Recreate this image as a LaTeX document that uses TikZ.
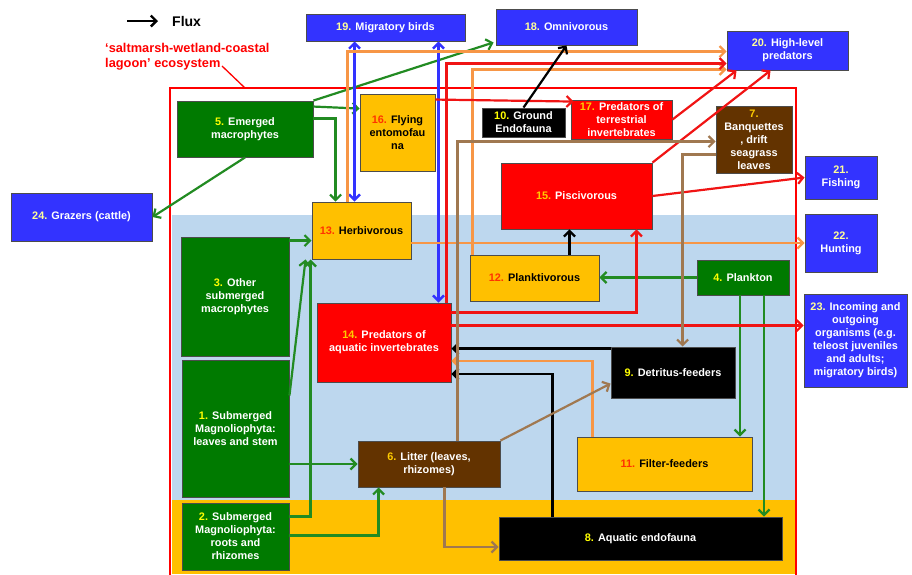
\documentclass[tikz,border=0pt]{standalone}
\usepackage{fontspec}
\setmainfont{Liberation Sans}
\usetikzlibrary{arrows.meta}
\definecolor{boxblue}{RGB}{51,51,255}
\definecolor{boxgreen}{RGB}{0,122,0}
\definecolor{boxyellow}{RGB}{255,192,0}
\definecolor{boxred}{RGB}{255,0,0}
\definecolor{boxbrown}{RGB}{99,51,0}
\definecolor{waterblue}{RGB}{189,215,238}
\definecolor{sedyellow}{RGB}{255,192,0}
\definecolor{flowgreen}{RGB}{34,139,34}
\definecolor{floworange}{RGB}{247,150,70}
\definecolor{flowred}{RGB}{240,20,20}
\definecolor{flowbrown}{RGB}{160,120,80}
\definecolor{numdark}{RGB}{255,255,0}
\definecolor{numyel}{RGB}{255,51,0}
\definecolor{numred}{RGB}{255,204,0}
\definecolor{numblue}{RGB}{255,255,153}
\newcommand{\nr}[2]{\textcolor{#1}{#2.}}
\tikzset{
    comp/.style={draw=black!70, line width=0.9pt, inner sep=1pt, align=center},
    bluebox/.style={comp, fill=boxblue, text=white},
    greenbox/.style={comp, fill=boxgreen, text=white},
    yelbox/.style={comp, fill=boxyellow, text=black},
    redbox/.style={comp, fill=boxred, text=white},
    brownbox/.style={comp, fill=boxbrown, text=white},
    blackbox/.style={comp, fill=black, text=white},
    flow/.style={line width=2.2pt, -{Straight Barb[length=5.5pt,width=11pt]}},
    gflow/.style={flow, flowgreen},
    oflow/.style={flow, floworange},
    rflow/.style={flow, flowred},
    kflow/.style={flow, black},
    nflow/.style={flow, flowbrown},
    bflow/.style={line width=2.4pt, boxblue, {Straight Barb[length=5.5pt,width=11pt]}-{Straight Barb[length=5.5pt,width=11pt]}}
}
\begin{document}
\begin{tikzpicture}[x=1pt, y=-1pt, font=\fontsize{10.9}{13}\selectfont\bfseries]
    \useasboundingbox (0,0) rectangle (912,574);
    \fill[waterblue] (172,215) rectangle (795,500);
    \fill[sedyellow] (172,500) rectangle (795,574);
    \draw[boxred, line width=1.8pt] (170,580) -- (170,88) -- (796,88) -- (796,580);

    \coordinate (fluxa) at (127,21);
    \coordinate (fluxb) at (158,21);
    \draw[kflow, line width=2.4pt] (fluxa) -- (fluxb);
    \node[anchor=west, inner sep=0pt, font=\fontsize{14}{16}\selectfont\bfseries] (flux) at (172,21) {Flux};
    \node[anchor=north west, inner sep=0pt, align=left, text=boxred, font=\fontsize{12.8}{15}\selectfont\bfseries] (eco) at (105,43) {`saltmarsh-wetland-coastal\\lagoon' ecosystem};
    \coordinate (ecoa) at (222,66);
    \coordinate (ecob) at (245,88);
    \draw[boxred, line width=1.3pt] (ecoa) -- (ecob);

    \node[bluebox, minimum width=159pt, minimum height=27pt] (mig) at (385.5,27.5) {\nr{numblue}{19} Migratory birds};
    \node[bluebox, minimum width=141pt, minimum height=36pt] (omn) at (566.5,27) {\nr{numblue}{18} Omnivorous};
    \node[bluebox, minimum width=121pt, minimum height=39pt] (hlp) at (787.5,50.5) {\nr{numblue}{20} High-level\\predators};
    \node[bluebox, minimum width=141pt, minimum height=48pt] (grz) at (81.5,217) {\nr{numblue}{24} Grazers (cattle)};
    \node[bluebox, minimum width=72pt, minimum height=43pt] (fsh) at (841,177.5) {\nr{numblue}{21}\\Fishing};
    \node[bluebox, minimum width=72pt, minimum height=58pt] (hun) at (841,243) {\nr{numblue}{22}\\Hunting};
    \node[bluebox, minimum width=103pt, minimum height=93pt] (inc) at (855.5,340.5) {\nr{numblue}{23} Incoming and\\outgoing\\organisms (e.g.\\teleost juveniles\\and adults;\\migratory birds)};

    \node[greenbox, minimum width=136pt, minimum height=56pt] (emg) at (245,129) {\nr{numdark}{5} Emerged\\macrophytes};
    \node[greenbox, minimum width=108pt, minimum height=119pt] (osm) at (235,296.5) {\nr{numdark}{3} Other\\submerged\\macrophytes};
    \node[greenbox, minimum width=107pt, minimum height=137pt] (sml) at (235.5,428.5) {\nr{numdark}{1} Submerged\\Magnoliophyta:\\leaves and stem};
    \node[greenbox, minimum width=107pt, minimum height=67pt] (smr) at (235.5,536.5) {\nr{numdark}{2} Submerged\\Magnoliophyta:\\roots and\\rhizomes};
    \node[greenbox, minimum width=92pt, minimum height=35pt] (plk) at (743,277.5) {\nr{numdark}{4} Plankton};

    \node[yelbox, minimum width=75pt, minimum height=77pt] (fly) at (397.5,132.5) {\nr{numyel}{16} Flying\\entomofau\\na};
    \node[yelbox, minimum width=99pt, minimum height=57pt] (herb) at (361.5,230.5) {\nr{numyel}{13} Herbivorous};
    \node[yelbox, minimum width=129pt, minimum height=46pt] (pkv) at (534.5,278) {\nr{numyel}{12} Planktivorous};
    \node[yelbox, minimum width=175pt, minimum height=54pt] (fil) at (664.5,464) {\nr{numyel}{11} Filter-feeders};

    \node[redbox, minimum width=134pt, minimum height=79pt] (pai) at (384,342.5) {\nr{numred}{14} Predators of\\aquatic invertebrates};
    \node[redbox, minimum width=151pt, minimum height=66pt] (pis) at (576.5,196) {\nr{numred}{15} Piscivorous};
    \node[redbox, minimum width=101pt, minimum height=39pt] (pti) at (621.5,119.5) {\nr{numred}{17} Predators of\\terrestrial\\invertebrates};

    \node[brownbox, minimum width=142pt, minimum height=46pt] (lit) at (429,464) {\nr{numred}{6} Litter (leaves,\\rhizomes)};
    \node[brownbox, minimum width=76pt, minimum height=67pt] (ban) at (754,139.5) {\nr{numred}{7}\\Banquettes\\, drift\\seagrass\\leaves};

    \node[blackbox, minimum width=283pt, minimum height=43pt] (aqe) at (640.5,538.5) {\nr{numdark}{8} Aquatic endofauna};
    \node[blackbox, minimum width=124pt, minimum height=51pt] (det) at (673,372.5) {\nr{numdark}{9} Detritus-feeders};
    \node[blackbox, minimum width=83pt, minimum height=29pt] (gre) at (523.5,122.5) {\nr{numdark}{10} Ground\\Endofauna};

    \draw[gflow] ([yshift=-6pt]emg.north east) -- ([yshift=-15pt]fly.north west);
    \draw[gflow] (emg.north east) -- ([xshift=-2pt,yshift=3pt]omn.south west);
    \draw[gflow] ([yshift=-18pt]emg.north east) -| ([xshift=24pt]herb.north west);
    \draw[gflow] (emg.south) -- (grz.east);
    \draw[gflow] ([yshift=-4pt]osm.north east) -- ([yshift=-39pt]herb.north west);
    \draw[gflow] ([yshift=33pt]sml.east) -- ([xshift=-6pt]herb.south west);
    \draw[gflow] ([yshift=-14pt]smr.north east) -| ([xshift=-1pt]herb.south west);
    \draw[gflow] (sml.east |- lit.west) -- (lit.west);
    \draw[gflow] ([yshift=-33pt]smr.north east) -| ([xshift=21pt]lit.south west);
    \draw[gflow] (plk.west) -- (plk.west -| pkv.east);
    \draw[gflow] ([xshift=-3pt]plk.south) -- ([xshift=-3pt]plk.south |- fil.north);
    \draw[gflow] ([xshift=21pt]plk.south) -- ([xshift=21pt]plk.south |- aqe.north);

    \draw[bflow] ([xshift=49pt]mig.south west) -- ([xshift=49pt]mig.south west |- herb.north);
    \draw[bflow] ([xshift=-27pt]mig.south east) -- ([xshift=-27pt]mig.south east |- pai.north);

    \draw[oflow] ([xshift=36pt]herb.north west) |- ([yshift=-21pt]hlp.north west);
    \draw[oflow] ([xshift=3pt]pkv.north west) |- ([yshift=1pt]hlp.south west);
    \draw[oflow] (hun.west -| herb.east) -- (hun.west);
    \draw[oflow] ([xshift=16pt]fil.north west) |- ([yshift=-18.5pt]pai.east);

    \draw[rflow] ([yshift=-10pt]pai.north east) -| ([xshift=-16pt]pis.south east);
    \draw[rflow] ([yshift=-23pt]pai.north east) -- ([yshift=-23pt]pai.north east -| inc.west);
    \draw[rflow] ([xshift=-5pt]pai.north east) |- ([yshift=-33pt]hlp.north west);
    \draw[rflow] ([yshift=-6pt]fly.north east) -- ([xshift=3pt,yshift=-2pt]pti.north west);
    \draw[rflow] (pti.east) -- ([xshift=10pt]hlp.south west);
    \draw[rflow] (pis.north east) -- ([xshift=44pt]hlp.south west);
    \draw[rflow] (pis.east) -- (fsh.west);

    \draw[kflow] (gre.north) -- (omn.south);
    \draw[kflow] ([xshift=35pt]pkv.north) -- ([xshift=35pt]pkv.north |- pis.south);
    \draw[kflow] ([yshift=-2pt]det.north west) -- ([yshift=-2pt]det.north west -| pai.east);
    \draw[kflow] ([xshift=54pt]aqe.north west) |- ([yshift=-31.5pt]pai.east);

    \draw[nflow] ([xshift=87pt]lit.south west) |- ([yshift=-8.5pt]aqe.west);
    \draw[nflow] (lit.north east) -- ([yshift=-37pt]det.north west);
    \draw[nflow] ([xshift=100pt]lit.north west) |- ([yshift=-36pt]ban.north west);
    \draw[nflow] ([yshift=-49pt]ban.north west) -| ([xshift=72pt]det.north west);
\end{tikzpicture}
\end{document}
